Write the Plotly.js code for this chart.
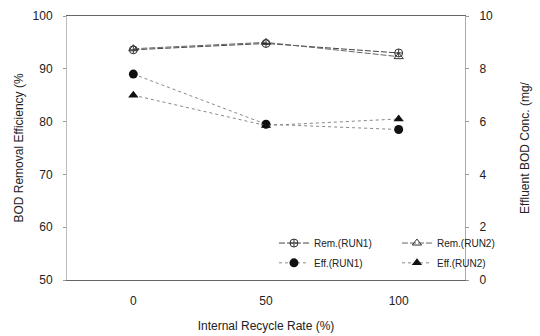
<!DOCTYPE html>
<html><head><meta charset="utf-8">
<script src="https://cdn.plot.ly/plotly-3.0.1.min.js"></script>
<style>body{margin:0;background:#fff}#c{width:540px;height:336px}</style>
</head><body><div id="c"></div>
<script>
const recycleRate = [0, 50, 100];
const remRun1 = [93.6, 94.8, 93.0];
const remRun2 = [93.8, 95.0, 92.3];
const effRun1 = [7.8, 5.9, 5.7];
const effRun2 = [7.0, 5.85, 6.1];
const xTicks = [0, 50, 100];
const yLeftTicks = [50, 60, 70, 80, 90, 100];
const yRightTicks = [0, 2, 4, 6, 8, 10];

const font = {family: 'Liberation Sans, Arial, sans-serif', color: '#222'};
const traces = [
  {x: recycleRate, y: remRun1, name: 'Rem.(RUN1)', mode: 'lines+markers', legend: 'legend',
   line: {color: '#444', width: 1, dash: '6px,2px'}, marker: {symbol: 'circle-cross-open', size: 8, color: '#333', line: {width: 1}}},
  {x: recycleRate, y: remRun2, name: 'Rem.(RUN2)', mode: 'lines+markers', legend: 'legend',
   line: {color: '#666', width: 1, dash: '6px,2px'}, marker: {symbol: 'triangle-up-open', size: 8, color: '#333', line: {width: 1}}},
  {x: recycleRate, y: effRun1, name: 'Eff.(RUN1)', mode: 'lines+markers', yaxis: 'y2', legend: 'legend2',
   line: {color: '#888', width: 1, dash: 'dot'}, marker: {symbol: 'circle', size: 9, color: '#111'}},
  {x: recycleRate, y: effRun2, name: 'Eff.(RUN2)', mode: 'lines+markers', yaxis: 'y2', legend: 'legend2',
   line: {color: '#888', width: 1, dash: 'dot'}, marker: {symbol: 'triangle-up', size: 9, color: '#111'}}
];
const layout = {
  width: 540, height: 336,
  margin: {l: 67, r: 75, t: 16, b: 56},
  paper_bgcolor: '#fff', plot_bgcolor: '#fff',
  font: Object.assign({size: 12}, font),
  showlegend: true,
  xaxis: {range: [-25, 125], tickvals: xTicks, showgrid: false, zeroline: false,
    showline: true, mirror: true, linecolor: '#666', linewidth: 1, ticks: '',
    ticklabelstandoff: 10, tickfont: {size: 12},
    title: {text: 'Internal Recycle Rate (%)', font: {size: 12}, standoff: 14}},
  yaxis: {range: [50, 100], tickvals: yLeftTicks, showgrid: false, zeroline: false,
    showline: true, linecolor: '#bbb', linewidth: 1, ticks: 'outside', ticklen: 3, tickcolor: '#999',
    ticklabelstandoff: 8, tickfont: {size: 12},
    title: {text: 'BOD Removal Efficiency (%', font: {size: 12}, standoff: 6}},
  yaxis2: {range: [0, 10], tickvals: yRightTicks, overlaying: 'y', side: 'right', showgrid: false, zeroline: false,
    showline: true, linecolor: '#aaa', linewidth: 1, ticks: 'outside', ticklen: 3, tickcolor: '#999',
    ticklabelstandoff: 8, tickfont: {size: 12},
    title: {text: 'Effluent BOD Conc. (mg/', font: {size: 12}, standoff: 28}},
  legend: {orientation: 'h', x: 0.52, y: 0.14, xanchor: 'left', yanchor: 'middle', entrywidth: 78,
    bgcolor: 'rgba(0,0,0,0)', font: {size: 10}, itemwidth: 30},
  legend2: {orientation: 'h', x: 0.52, y: 0.065, xanchor: 'left', yanchor: 'middle', entrywidth: 78,
    bgcolor: 'rgba(0,0,0,0)', font: {size: 10}, itemwidth: 30}
};
Plotly.newPlot('c', traces, layout, {displayModeBar: false, staticPlot: true});
</script></body></html>
